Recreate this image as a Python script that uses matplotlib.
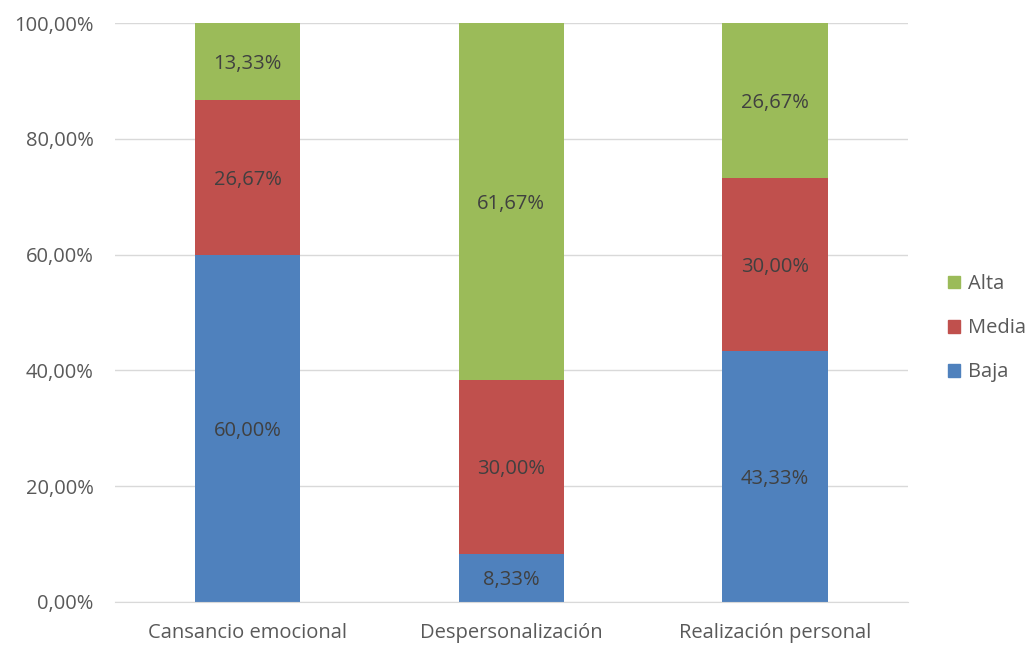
import matplotlib.pyplot as plt
from matplotlib.ticker import FuncFormatter
from matplotlib.patches import Patch

categories = ["Cansancio emocional", "Despersonalización", "Realización personal"]
baja = [60.00, 8.33, 43.33]
media = [26.67, 30.00, 30.00]
alta = [13.33, 61.67, 26.67]

colors = {"Baja": "#4F81BD", "Media": "#C0504D", "Alta": "#9BBB59"}
text_color = "#404040"
tick_color = "#595959"

plt.rcParams['font.family'] = ['Open Sans', 'DejaVu Sans']

fig = plt.figure(figsize=(10.32, 6.45), dpi=100)
ax = fig.add_axes([0.111, 0.0667, 0.769, 0.8973])

x = range(len(categories))
width = 0.4
bottoms = [0, 0, 0]
for name, vals in [("Baja", baja), ("Media", media), ("Alta", alta)]:
    ax.bar(x, vals, width, bottom=bottoms, color=colors[name], zorder=2)
    for i, v in enumerate(vals):
        ax.text(i, bottoms[i] + v / 2, f"{v:.2f}%".replace(".", ","),
                ha="center", va="center_baseline", fontsize=14.5,
                color=text_color, zorder=3)
    bottoms = [b + v for b, v in zip(bottoms, vals)]

ax.set_xlim(-0.505, 2.505)
ax.set_ylim(0, 100)
ax.set_yticks([0, 20, 40, 60, 80, 100])
ax.yaxis.set_major_formatter(FuncFormatter(lambda v, p: f"{v:.2f}%".replace(".", ",")))
ax.set_xticks(list(x))
ax.set_xticklabels(categories)
ax.tick_params(axis="both", length=0, labelsize=14.5, colors=tick_color)
ax.tick_params(axis="y", pad=15)
ax.tick_params(axis="x", pad=15)
ax.grid(axis="y", color="#D9D9D9", linewidth=1, zorder=0)
for side in ["top", "right", "left"]:
    ax.spines[side].set_visible(False)
ax.spines["bottom"].set_color("#D9D9D9")

handles = [Patch(color=colors[n]) for n in ["Alta", "Media", "Baja"]]
fig.legend(handles, ["Alta", "Media", "Baja"], loc="center left",
           bbox_to_anchor=(0.919, 0.491), frameon=False, fontsize=14.5,
           handlelength=0.6, handleheight=0.6, labelspacing=1.2,
           handletextpad=0.35, labelcolor=tick_color, borderpad=0, borderaxespad=0)

fig.savefig("out.png", dpi=100)
